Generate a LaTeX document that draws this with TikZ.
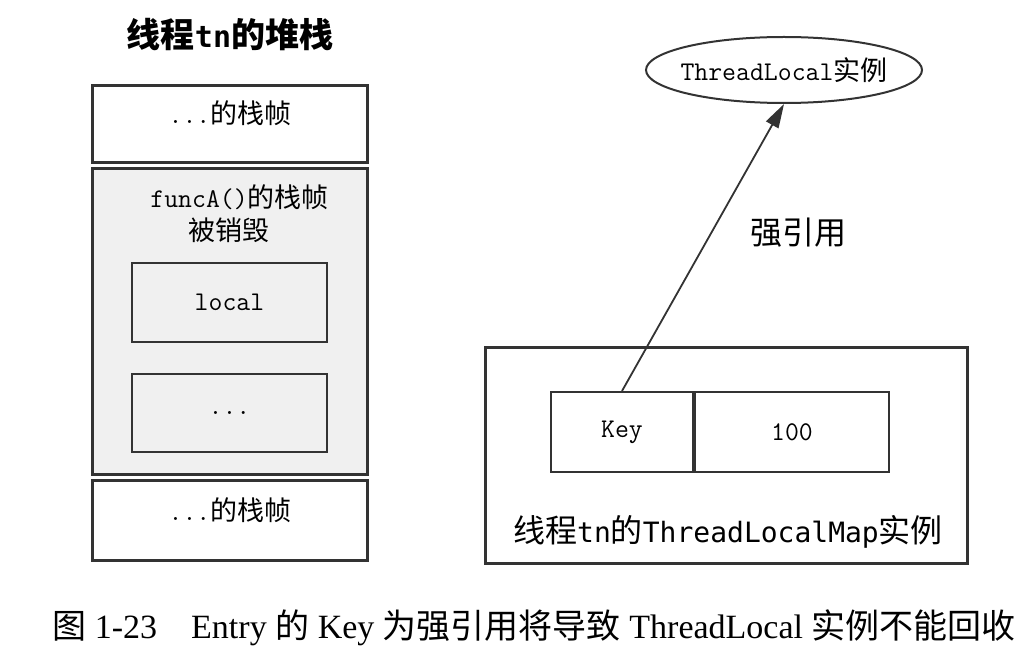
\documentclass[tikz,border=0pt]{standalone}
\usepackage{fontspec}
\setmainfont{Liberation Serif}
\newfontfamily\cjk{Noto Sans CJK SC}
\newfontfamily\hmono{DejaVu Sans Mono}
\usetikzlibrary{arrows.meta, shapes.geometric}
\definecolor{stackgray}{HTML}{F0F0F0}
\definecolor{linegray}{HTML}{333333}
\newcommand\boxfont{\fontsize{13.5}{16}\selectfont}
\newcommand\headfont{\fontsize{14}{18}\selectfont}
\newcommand\capfont{\fontsize{17}{20}\selectfont}
\tikzset{
  frame/.style={draw=linegray, line width=1.5pt, inner sep=0pt, minimum width=137.5pt},
  cell/.style={draw=linegray, line width=1pt, inner sep=0pt},
  txt/.style={inner sep=0pt},
}

\begin{document}
\begin{tikzpicture}[x=0.5pt, y=-0.5pt]
    \useasboundingbox (0,0) rectangle (1032,668);

    % Stack of thread tn
    \node[txt] (stacktitle) at (230,35) {\cjk\fontsize{17}{20}\selectfont\bfseries 线程\hmono\fontsize{15}{18}\selectfont tn\cjk\fontsize{17}{20}\selectfont 的堆栈};
    \node[frame, minimum height=38.5pt] (topframe) at (229.5,124.5) {};
    \node[txt] (toptext) at (230,113) {\boxfont\ttfamily ...\cjk 的栈帧};

    \node[frame, fill=stackgray, minimum height=152.5pt] (funcframe) at (229.5,321.5) {};
    \node[txt, anchor=west] (functext) at (150,197) {\boxfont\ttfamily funcA()\cjk 的栈帧};
    \node[txt, anchor=west] (gonetext) at (188,230) {\boxfont\cjk 被销毁};
    \node[cell, minimum width=97.5pt, minimum height=39.5pt] (localvar) at (229.5,302.5) {\boxfont\ttfamily local};
    \node[cell, minimum width=97.5pt, minimum height=39pt] (othervar) at (229.5,413) {\boxfont\ttfamily ...};

    \node[frame, minimum height=40pt] (bottomframe) at (229.5,520) {};
    \node[txt] (bottomtext) at (230,510) {\boxfont\ttfamily ...\cjk 的栈帧};

    % ThreadLocalMap of thread tn
    \node[draw=linegray, line width=1pt, ellipse, minimum width=138pt, minimum height=33pt, inner xsep=-4pt, inner ysep=0pt] (tlocal) at (784,70) {\boxfont\ttfamily ThreadLocal\cjk 实例};
    \node[frame, minimum width=241pt, minimum height=108pt] (mapframe) at (726,455) {};
    \node[cell, minimum width=71pt, minimum height=40pt] (key) at (622,432) {\boxfont\ttfamily Key};
    \node[cell, minimum width=97pt, minimum height=40pt, anchor=west] (value) at (key.east) {\boxfont\ttfamily 100};
    \node[txt] (maptext) at (728,532) {\cjk\fontsize{16}{20}\selectfont 线程\hmono\fontsize{14}{18}\selectfont tn\cjk\fontsize{16}{20}\selectfont 的\hmono\fontsize{14}{18}\selectfont ThreadLocalMap\cjk\fontsize{16}{20}\selectfont 实例};

    \draw[linegray, line width=0.9pt, -{Triangle[length=12pt, width=7pt]}] (key.north) -- (tlocal.south);
    \node[txt] (strongref) at (798,233) {\cjk\fontsize{16}{20}\selectfont 强引用};

    % Caption
    \node[txt] (caption) at (534,628) {\capfont{\cjk 图} 1-23\quad Entry {\cjk 的} Key {\cjk 为强引用将导致} ThreadLocal {\cjk 实例不能回收}};
\end{tikzpicture}
\end{document}
